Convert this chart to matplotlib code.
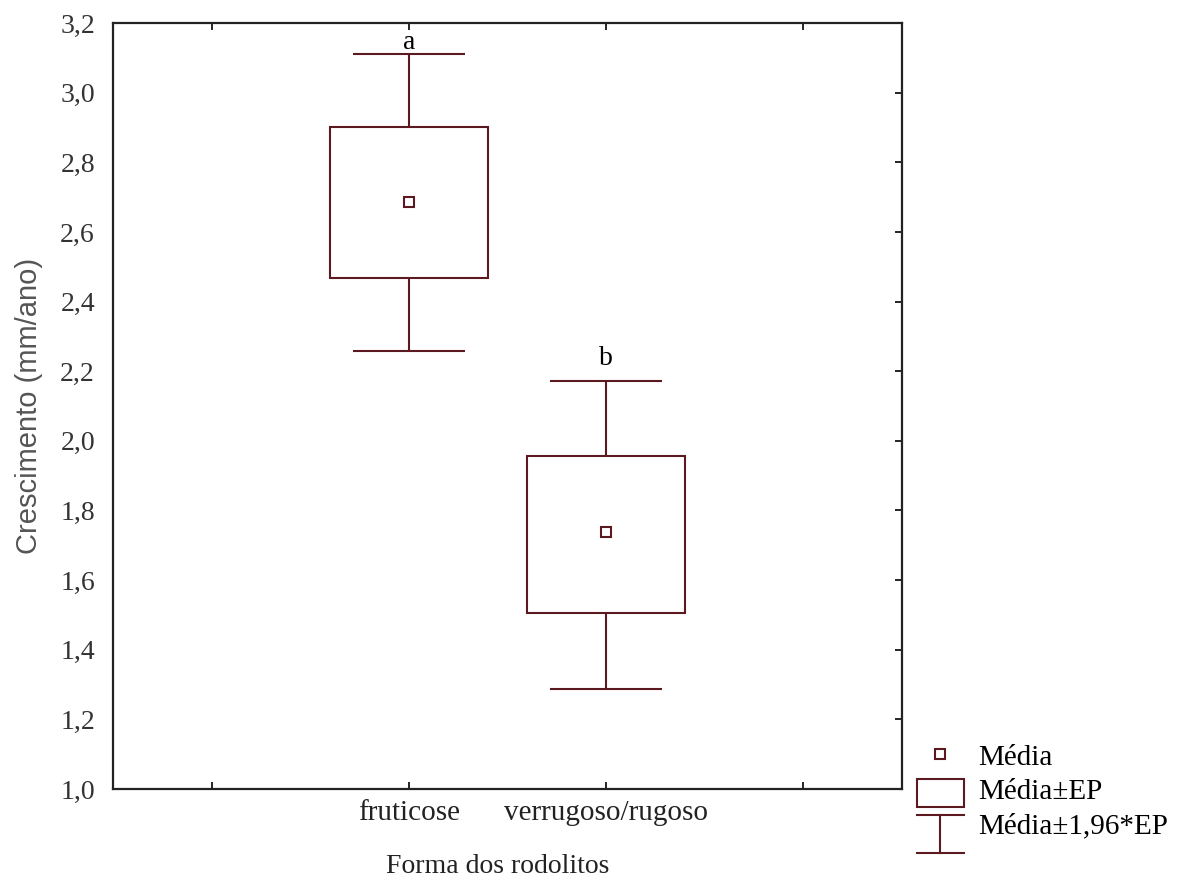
import matplotlib
matplotlib.use("Agg")
import matplotlib.pyplot as plt
from matplotlib.patches import Rectangle
from matplotlib.lines import Line2D
from matplotlib.legend_handler import HandlerBase

# values
categories = ["fruticose", "verrugoso/rugoso"]
positions = [1.5, 2.5]
means = [2.686, 1.737]
ep_low = [2.467, 1.505]
ep_high = [2.901, 1.956]
ci_low = [2.257, 1.286]
ci_high = [3.111, 2.171]
letters = ["a", "b"]
letter_y = [3.143, 2.237]

line_color = "#5c1a20"
serif = ["Liberation Serif", "DejaVu Serif"]


class WhiskerHandler(HandlerBase):
    def create_artists(self, legend, orig_handle, xdescent, ydescent,
                       width, height, fontsize, trans):
        x0, x1 = -xdescent, -xdescent + width
        y0, y1 = -ydescent - 0.6 * fontsize, -ydescent + 0.7 * fontsize
        xm = (x0 + x1) / 2
        kw = dict(color=line_color, lw=1.5, transform=trans)
        return [Line2D([x0, x1], [y0, y0], **kw),
                Line2D([x0, x1], [y1, y1], **kw),
                Line2D([xm, xm], [y0, y1], **kw)]


class BoxHandler(HandlerBase):
    def create_artists(self, legend, orig_handle, xdescent, ydescent,
                       width, height, fontsize, trans):
        r = Rectangle((-xdescent, -ydescent - 0.2 * fontsize), width, 0.95 * fontsize,
                      fill=False, ec=line_color, lw=1.5, transform=trans)
        return [r]


fig = plt.figure(figsize=(11.84, 8.81), dpi=100)
ax = fig.add_axes([0.0954, 0.1044, 0.6664, 0.8695])

box_w = 0.8
cap_w = 0.57
for i, x in enumerate(positions):
    ax.add_patch(Rectangle((x - box_w / 2, ep_low[i]), box_w, ep_high[i] - ep_low[i],
                           fill=False, ec=line_color, lw=1.5, zorder=2))
    ax.vlines(x, ep_high[i], ci_high[i], color=line_color, lw=1.5)
    ax.vlines(x, ci_low[i], ep_low[i], color=line_color, lw=1.5)
    ax.hlines([ci_low[i], ci_high[i]], x - cap_w / 2, x + cap_w / 2,
              color=line_color, lw=1.5)
    ax.text(x, letter_y[i], letters[i], ha="center", va="center",
            fontsize=20, family=serif, color="black")

ax.plot(positions, means, "s", ms=7, mfc="white", mec=line_color, mew=1.5,
        ls="none", zorder=3)

ax.set_xlim(0, 4)
ax.set_ylim(1.0, 3.2)
ax.set_xticks([0.5, 1.5, 2.5, 3.5], ["", categories[0], categories[1], ""])
yt = [1.0 + 0.2 * k for k in range(12)]
ax.set_yticks(yt, [f"{v:.1f}".replace(".", ",") for v in yt])

ax.tick_params(axis="x", direction="in", top=True, bottom=True, length=5,
               width=1.2, pad=8, labelsize=21, labelcolor="#222222")
ax.tick_params(axis="y", direction="in", left=False, right=True, length=5,
               width=1.2, pad=13, labelsize=20, labelcolor="#333333")
for lab in ax.get_xticklabels() + ax.get_yticklabels():
    lab.set_family(serif)

for sp in ax.spines.values():
    sp.set_linewidth(1.6)
    sp.set_color("#222222")

ax.set_xlabel("Forma dos rodolitos", fontsize=20, family=serif, color="#222222",
              labelpad=14)
ax.xaxis.set_label_coords(0.487, -0.085)
ax.set_ylabel("Crescimento (mm/ano)", fontsize=21,
              family=["Liberation Sans", "DejaVu Sans"], color="#555555",
              labelpad=12)

h_mean = Line2D([], [], marker="s", ms=6.5, mfc="white", mec=line_color, mew=1.5,
                ls="none")
h_box = Rectangle((0, 0), 1, 1)
h_whisk = Line2D([], [])
fig.legend([h_mean, h_box, h_whisk], ["Média", "Média±EP", "Média±1,96*EP"],
           handler_map={Rectangle: BoxHandler(), h_whisk: WhiskerHandler()},
           loc="lower left", bbox_to_anchor=(917 / 1184, 1 - 839 / 881),
           frameon=False, prop={"family": serif, "size": 21},
           handlelength=1.6, handleheight=0.9, handletextpad=0.5,
           labelspacing=0.2, borderpad=0, borderaxespad=0)

fig.savefig("out.png", dpi=100, facecolor="white")
